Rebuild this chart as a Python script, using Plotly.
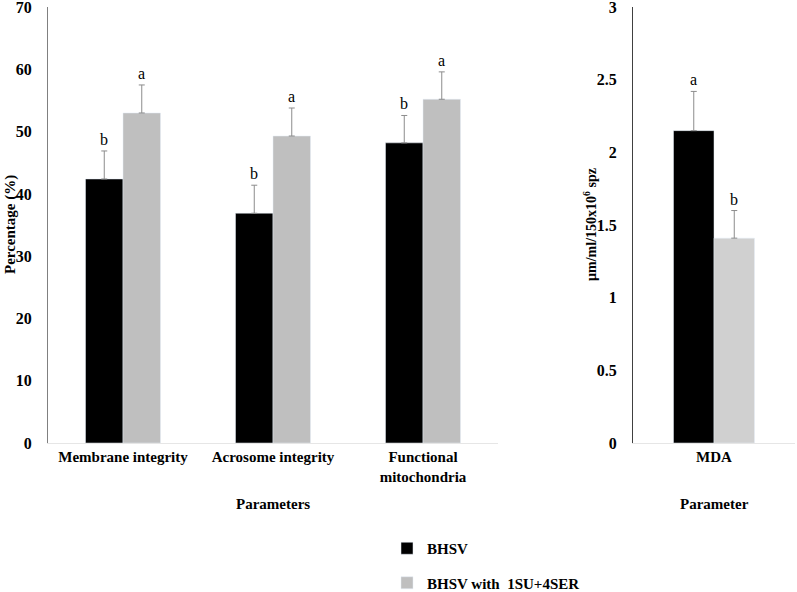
import plotly.graph_objects as go

categories = ["Membrane integrity", "Acrosome integrity", "Functional<br>mitochondria"]
bhsv = [42.4, 36.9, 48.2]
bhsv_err = [4.5, 4.5, 4.4]
bhsv_sig = ["b", "b", "b"]
treat = [53.0, 49.3, 55.2]
treat_err = [4.5, 4.5, 4.4]
treat_sig = ["a", "a", "a"]

mda_cat = ["MDA"]
mda_bhsv = [2.15]
mda_bhsv_err = [0.27]
mda_bhsv_sig = ["a"]
mda_treat = [1.41]
mda_treat_err = [0.19]
mda_treat_sig = ["b"]

left_ticks = [0, 10, 20, 30, 40, 50, 60, 70]
right_ticks = [0, 0.5, 1, 1.5, 2, 2.5, 3]
right_ticktext = ["0", "0.5", "1", "1.5", "2", "2.5", "3"]

series_names = ["BHSV", "BHSV with  1SU+4SER"]

W, H = 797, 592
FONT = "'Liberation Serif', 'Times New Roman', serif"
BLACK = "#000000"
GRAY_L = "#bfbfbf"
GRAY_R = "#d0d0d0"
ERRC = "#8c8c8c"

fig = go.Figure()

def err(vals):
    return dict(type="data", array=vals, arrayminus=[0]*len(vals), symmetric=False,
                color=ERRC, thickness=1, width=3)

fig.add_trace(go.Bar(x=categories, y=bhsv, name=series_names[0], marker_color=BLACK,
                     error_y=err(bhsv_err), xaxis="x", yaxis="y", legendgroup="g1"))
fig.add_trace(go.Bar(x=categories, y=treat, name=series_names[1], marker_color=GRAY_L,
                     error_y=err(treat_err), xaxis="x", yaxis="y", legendgroup="g2"))
fig.add_trace(go.Bar(x=mda_cat, y=mda_bhsv, name=series_names[0], marker_color=BLACK,
                     error_y=err(mda_bhsv_err), xaxis="x2", yaxis="y2", showlegend=False))
fig.add_trace(go.Bar(x=mda_cat, y=mda_treat, name=series_names[1], marker_color=GRAY_R,
                     error_y=err(mda_treat_err), xaxis="x2", yaxis="y2", showlegend=False))

ann = []
def letters(cats, vals, errs, sigs, xref, yref, shift):
    for c, v, e, s in zip(cats, vals, errs, sigs):
        ann.append(dict(x=c, y=v + e, xref=xref, yref=yref, text=s, showarrow=False,
                        xshift=shift, yshift=1, yanchor="bottom",
                        font=dict(family=FONT, size=16, color="#000")))

letters(categories, bhsv, bhsv_err, bhsv_sig, "x", "y", -18.75)
letters(categories, treat, treat_err, treat_sig, "x", "y", 18.75)
letters(mda_cat, mda_bhsv, mda_bhsv_err, mda_bhsv_sig, "x2", "y2", -20.25)
letters(mda_cat, mda_treat, mda_treat_err, mda_treat_sig, "x2", "y2", 20.25)

ann.append(dict(x=273/W, y=(592-504)/H, xref="paper", yref="paper", text="<b>Parameters</b>",
                showarrow=False, xanchor="center", yanchor="middle",
                font=dict(family=FONT, size=15, color="#000")))
ann.append(dict(x=714/W, y=(592-504)/H, xref="paper", yref="paper", text="<b>Parameter</b>",
                showarrow=False, xanchor="center", yanchor="middle",
                font=dict(family=FONT, size=15, color="#000")))
ann.append(dict(x=10/W, y=(592-225)/H, xref="paper", yref="paper", text="<b>Percentage (%)</b>",
                showarrow=False, textangle=-90, xanchor="center", yanchor="middle",
                font=dict(family=FONT, size=15, color="#000")))
ann.append(dict(x=590/W, y=(592-225)/H, xref="paper", yref="paper",
                text="<b>µm/ml/150x10<sup>6</sup> spz</b>",
                showarrow=False, textangle=-90, xanchor="center", yanchor="middle",
                font=dict(family=FONT, size=14, color="#000")))

ydom = [(592-443)/H, (592-7)/H]
tickfont = dict(family=FONT, size=16, color="#000", weight="bold")
xtickfont = dict(family=FONT, size=15, color="#000", weight="bold")

fig.update_layout(
    width=W, height=H, margin=dict(l=0, r=0, t=0, b=0, autoexpand=False),
    paper_bgcolor="white", plot_bgcolor="white",
    barmode="group", bargap=0.5, bargroupgap=0,
    font=dict(family=FONT, color="#000"),
    xaxis=dict(domain=[48/W, 498/W], anchor="y", showgrid=False, showline=True, automargin=False,
               linecolor="#e6e6e6", linewidth=1, ticks="", tickfont=xtickfont),
    yaxis=dict(domain=ydom, anchor="x", range=[0, 70.02], tickvals=left_ticks, automargin=False,
               showgrid=False, showline=True, ticklabeloverflow="allow",
               linecolor="#808080", linewidth=1, ticks="", tickfont=tickfont, ticklabelstandoff=12,
               zeroline=False),
    xaxis2=dict(domain=[633/W, 795/W], anchor="y2", showgrid=False, showline=True, automargin=False,
                linecolor="#e6e6e6", linewidth=1, ticks="", tickfont=xtickfont),
    yaxis2=dict(domain=ydom, anchor="x2", range=[0, 3.001], tickvals=right_ticks, automargin=False,
                ticktext=right_ticktext, showgrid=False, showline=True, ticklabeloverflow="allow",
                linecolor="#404040", linewidth=1, ticks="", tickfont=tickfont, ticklabelstandoff=12,
                zeroline=False),
    legend=dict(x=387/W, y=(592-532)/H, xanchor="left", yanchor="top", orientation="v",
                font=dict(family=FONT, size=15, color="#000", weight="bold"),
                tracegroupgap=12, bgcolor="rgba(0,0,0,0)", itemwidth=30),
    annotations=ann,
    showlegend=True,
)

fig.write_html("out.html", config={"displayModeBar": False},
               post_script="document.body.style.margin='0';document.body.style.overflow='hidden';")
